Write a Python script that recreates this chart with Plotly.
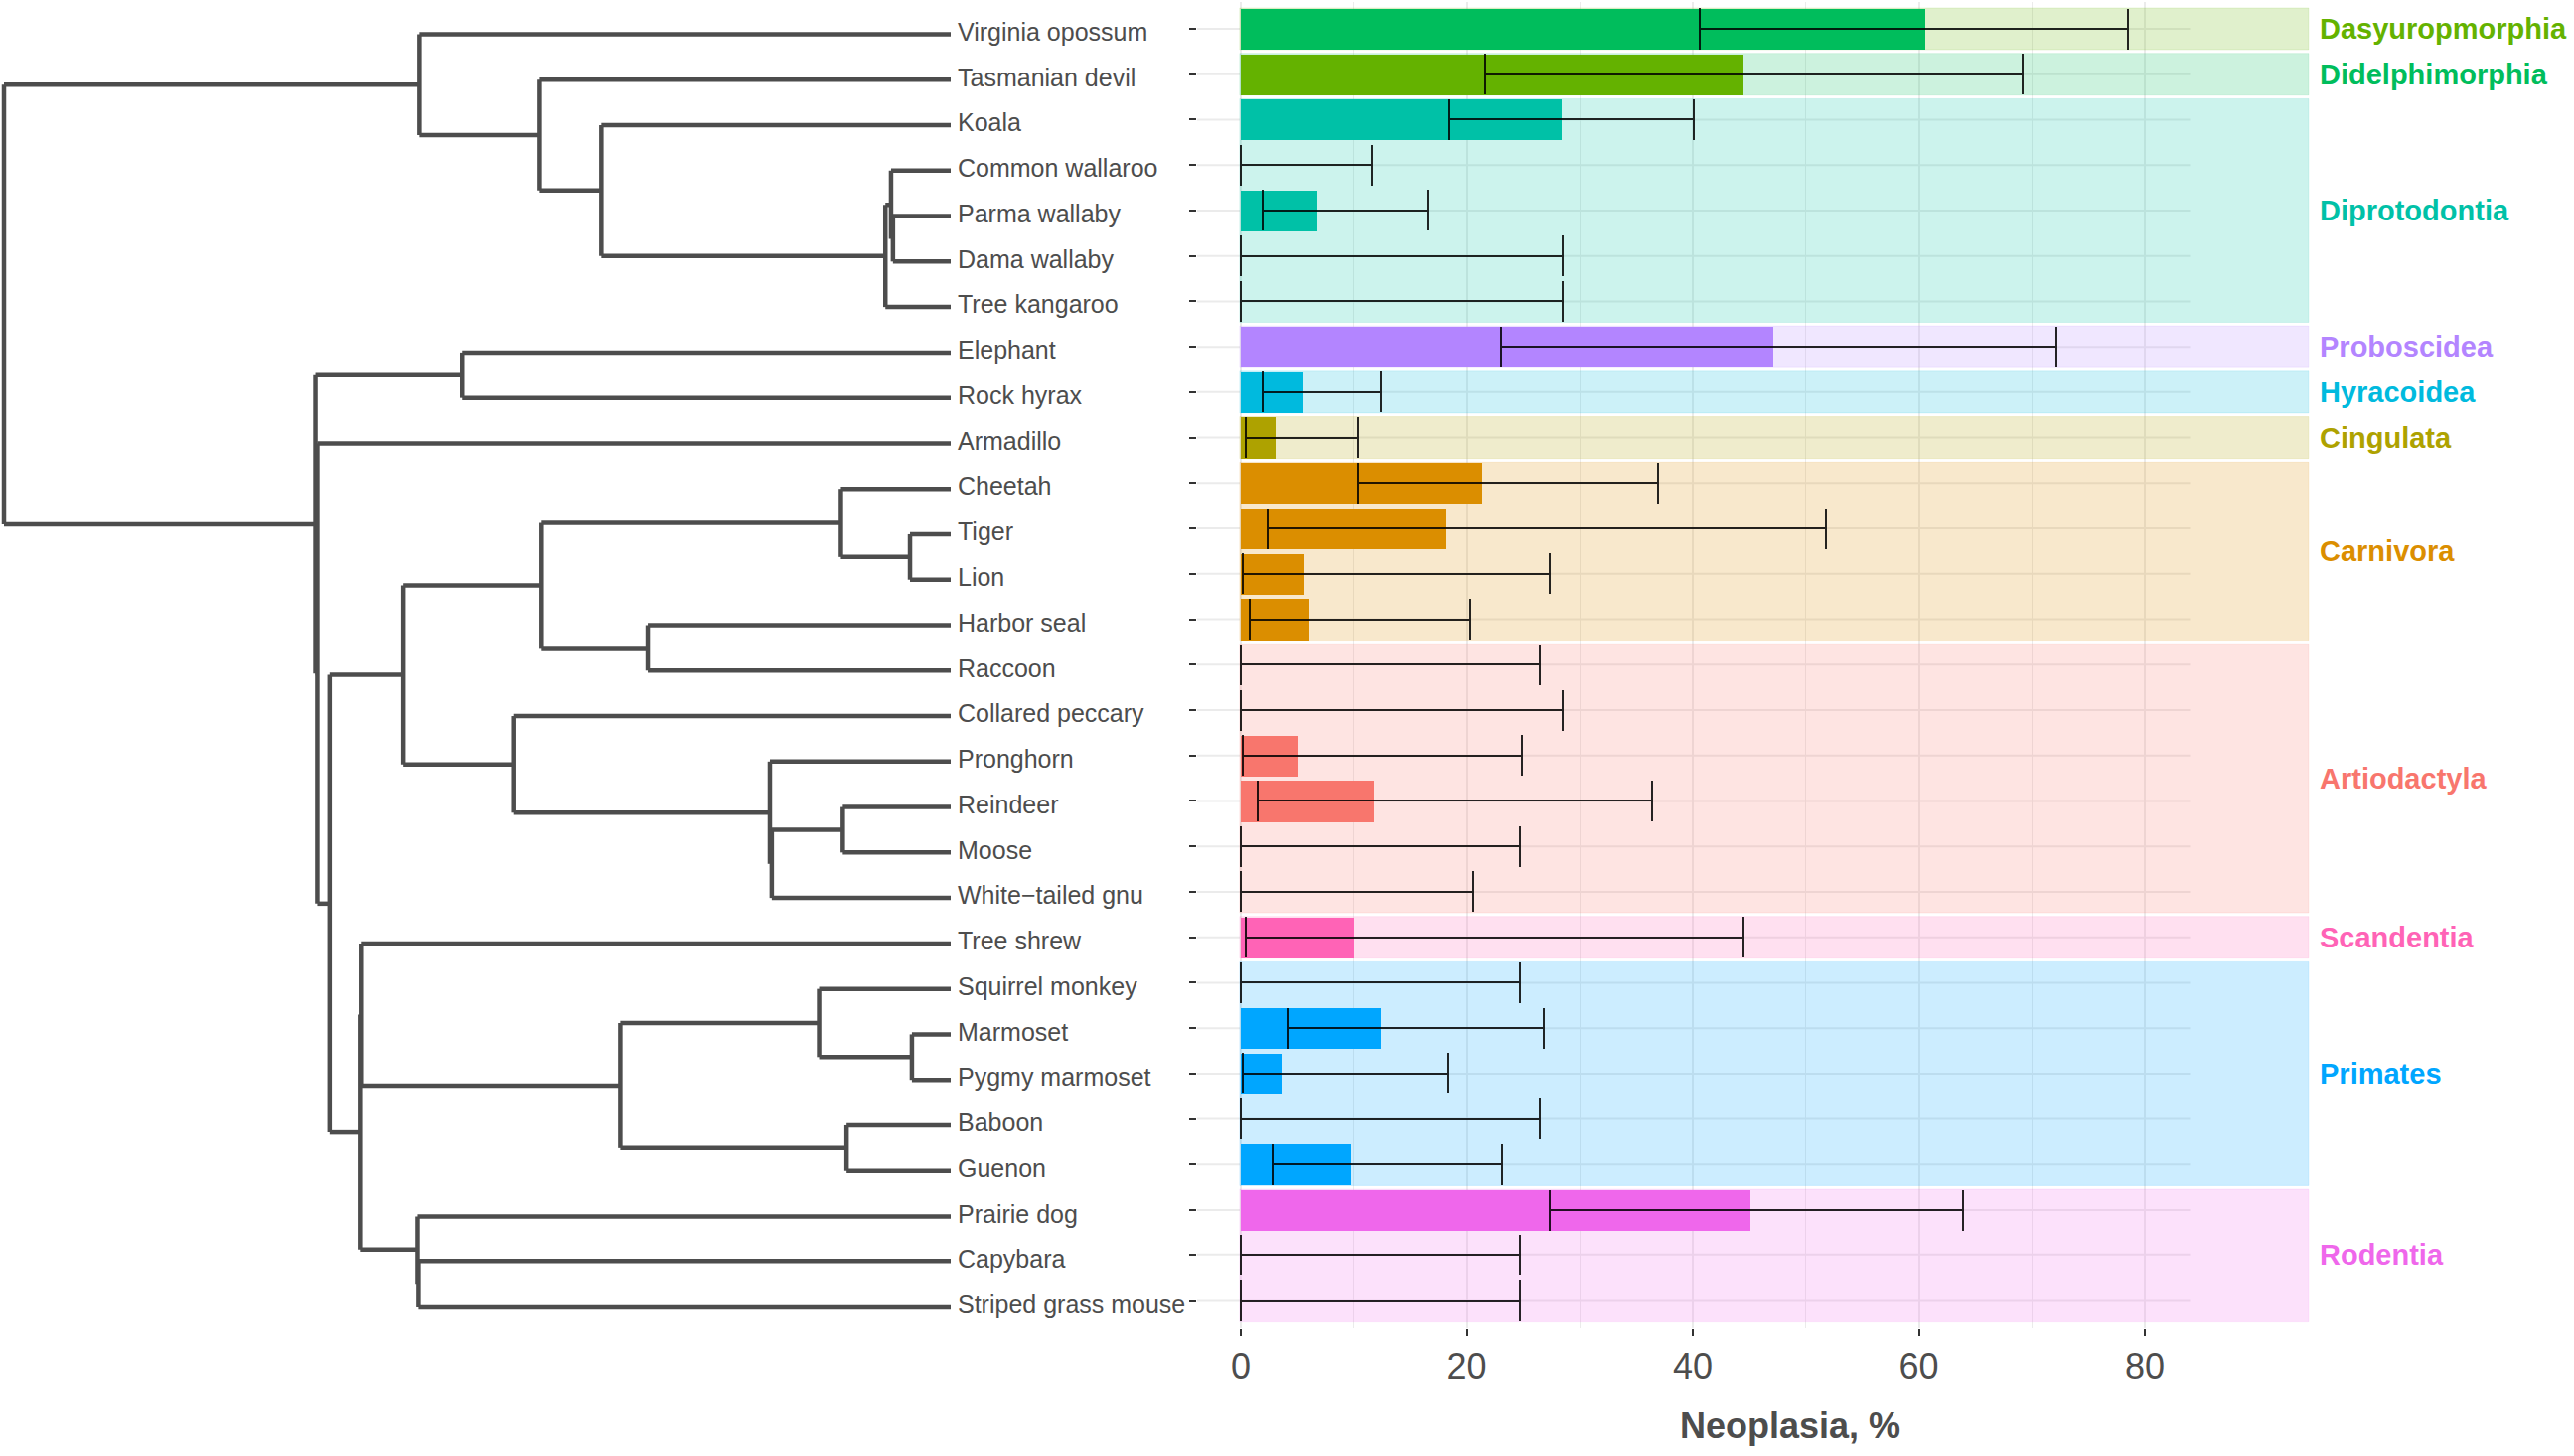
import plotly.graph_objects as go

# ---------------- data ----------------
species = ["Virginia opossum", "Tasmanian devil", "Koala", "Common wallaroo", "Parma wallaby",
           "Dama wallaby", "Tree kangaroo", "Elephant", "Rock hyrax", "Armadillo", "Cheetah",
           "Tiger", "Lion", "Harbor seal", "Raccoon", "Collared peccary", "Pronghorn", "Reindeer",
           "Moose", "White\u2212tailed gnu", "Tree shrew", "Squirrel monkey", "Marmoset",
           "Pygmy marmoset", "Baboon", "Guenon", "Prairie dog", "Capybara", "Striped grass mouse"]
species_order = ["Didelphimorphia", "Dasyuromorphia", "Diprotodontia", "Diprotodontia", "Diprotodontia",
                 "Diprotodontia", "Diprotodontia", "Proboscidea", "Hyracoidea", "Cingulata", "Carnivora",
                 "Carnivora", "Carnivora", "Carnivora", "Carnivora", "Artiodactyla", "Artiodactyla",
                 "Artiodactyla", "Artiodactyla", "Artiodactyla", "Scandentia", "Primates", "Primates",
                 "Primates", "Primates", "Primates", "Rodentia", "Rodentia", "Rodentia"]
neoplasia = [60.6, 44.5, 28.4, 0, 6.8, 0, 0, 47.1, 5.5, 3.1, 21.4, 18.2, 5.6, 6.1, 0, 0, 5.1, 11.8,
             0, 0, 10.0, 0, 12.4, 3.6, 0, 9.8, 45.1, 0, 0]
ci_low = [40.6, 21.6, 18.5, 0, 1.9, 0, 0, 23.0, 1.9, 0.4, 10.4, 2.4, 0.2, 0.8, 0, 0, 0.2, 1.5,
          0, 0, 0.4, 0, 4.2, 0.2, 0, 2.8, 27.3, 0, 0]
ci_high = [78.5, 69.2, 40.1, 11.6, 16.5, 28.5, 28.5, 72.2, 12.4, 10.4, 36.9, 51.8, 27.3, 20.3,
           26.5, 28.5, 24.9, 36.4, 24.7, 20.6, 44.5, 24.7, 26.8, 18.4, 26.5, 23.1, 63.9, 24.7, 24.7]

order_colors = {"Artiodactyla": "#F8766D", "Carnivora": "#DB8E00", "Cingulata": "#AEA200",
                "Dasyuromorphia": "#64B200", "Didelphimorphia": "#00BD5C", "Diprotodontia": "#00C1A7",
                "Hyracoidea": "#00BADE", "Primates": "#00A6FF", "Proboscidea": "#B385FF",
                "Rodentia": "#EF67EB", "Scandentia": "#FF63B6"}

# background blocks as drawn (label text, colour key, first and last species)
block_labels = ["Dasyuropmorphia", "Didelphimorphia", "Diprotodontia", "Proboscidea", "Hyracoidea",
                "Cingulata", "Carnivora", "Artiodactyla", "Scandentia", "Primates", "Rodentia"]
block_keys = ["Dasyuromorphia", "Didelphimorphia", "Diprotodontia", "Proboscidea", "Hyracoidea",
              "Cingulata", "Carnivora", "Artiodactyla", "Scandentia", "Primates", "Rodentia"]
block_first = ["Virginia opossum", "Tasmanian devil", "Koala", "Elephant", "Rock hyrax", "Armadillo",
               "Cheetah", "Raccoon", "Tree shrew", "Squirrel monkey", "Prairie dog"]
block_last = ["Virginia opossum", "Tasmanian devil", "Tree kangaroo", "Elephant", "Rock hyrax",
              "Armadillo", "Harbor seal", "White\u2212tailed gnu", "Tree shrew", "Guenon",
              "Striped grass mouse"]

# phylogeny: internal nodes (name, parent, relative depth from root 0 to tips 1)
node_names = ["root", "Marsupialia", "M2", "M3", "MacroA", "MacroB", "MacroC", "Placentalia",
              "Afrotheria", "PX", "Boreoeutheria", "Laurasiatheria", "CarnivoraN", "Felidae",
              "Panthera", "Caniformia", "ArtiodactylaN", "Ruminantia", "R2", "Cervidae",
              "Euarchontoglires", "E1", "PrimatesN", "Platyrrhini", "Callitrichidae", "Catarrhini",
              "RodentiaN", "Rod2"]
node_parent = [None, "root", "Marsupialia", "M2", "M3", "MacroA", "MacroB", "root",
               "Placentalia", "Placentalia", "PX", "Boreoeutheria", "Laurasiatheria", "CarnivoraN",
               "Felidae", "CarnivoraN", "Laurasiatheria", "ArtiodactylaN", "Ruminantia", "R2",
               "Boreoeutheria", "Euarchontoglires", "E1", "PrimatesN", "Platyrrhini", "PrimatesN",
               "Euarchontoglires", "RodentiaN"]
node_depth = [0.0, 0.439, 0.566, 0.631, 0.931, 0.937, 0.939, 0.329, 0.484, 0.331, 0.344, 0.422,
              0.568, 0.884, 0.957, 0.680, 0.538, 0.809, 0.811, 0.886, 0.376, 0.377, 0.651, 0.861,
              0.959, 0.890, 0.437, 0.438]
leaf_parent = ["Marsupialia", "M2", "M3", "MacroB", "MacroC", "MacroC", "MacroA", "Afrotheria",
               "Afrotheria", "PX", "Felidae", "Panthera", "Panthera", "Caniformia", "Caniformia",
               "ArtiodactylaN", "Ruminantia", "Cervidae", "Cervidae", "R2", "E1", "Platyrrhini",
               "Callitrichidae", "Callitrichidae", "Catarrhini", "Catarrhini", "RodentiaN", "Rod2",
               "Rod2"]
tip_depth = 1.0

x_ticks = [0, 20, 40, 60, 80]
x_minor = [10, 30, 50, 70]

# ---------------- layout helpers ----------------
W, H = 2591, 1466
FONT = "Liberation Sans, Arial, Helvetica, sans-serif"
TXT = "#4D4D4D"
GRID = "#EBEBEB"
LABEL_GAP = 7 / 953  # gap between tip and label, in tree units


def hex_rgba(h, a):
    h = h.lstrip("#")
    return f"rgba({int(h[0:2],16)},{int(h[2:4],16)},{int(h[4:6],16)},{a})"


row = {s: i for i, s in enumerate(species)}

# ---------------- tree geometry (from structure) ----------------
children = {n: [] for n in node_names}
pos_y = {}
pos_x = dict(zip(node_names, node_depth))
for s, p in zip(species, leaf_parent):
    children[p].append(s)
    pos_y[s] = row[s]
    pos_x[s] = tip_depth
for n, p in zip(node_names, node_parent):
    if p is not None:
        children[p].append(n)


def node_y(n):
    if n in pos_y:
        return pos_y[n]
    v = sum(node_y(c) for c in children[n]) / len(children[n])
    pos_y[n] = v
    return v


node_y("root")
tx, ty = [], []
for n in node_names:
    cys = [pos_y[c] for c in children[n]]
    tx += [pos_x[n], pos_x[n], None]
    ty += [min(cys), max(cys), None]
    for c in children[n]:
        tx += [pos_x[n], pos_x[c], None]
        ty += [pos_y[c], pos_y[c], None]

fig = go.Figure()

# tree
fig.add_trace(go.Scatter(x=tx, y=ty, mode="lines", line=dict(color="#4D4D4D", width=4.5),
                         xaxis="x2", yaxis="y2", hoverinfo="skip", showlegend=False))
fig.add_trace(go.Scatter(x=[tip_depth + LABEL_GAP] * len(species), y=list(range(len(species))),
                         mode="text", text=species, textposition="middle right",
                         textfont=dict(family=FONT, size=25, color=TXT),
                         xaxis="x2", yaxis="y2", cliponaxis=False, hoverinfo="skip",
                         showlegend=False))

# bars + CI
fig.add_trace(go.Bar(
    x=neoplasia, y=species, orientation="h", width=0.9,
    marker=dict(color=[order_colors[o] for o in species_order], line=dict(width=0)),
    error_x=dict(type="data", symmetric=False,
                 array=[h - v for h, v in zip(ci_high, neoplasia)],
                 arrayminus=[v - l for v, l in zip(neoplasia, ci_low)],
                 color="rgba(0,0,0,0.85)", thickness=2, width=20.5),
    showlegend=False, hoverinfo="skip"))

shapes = []
# horizontal grid lines (stop at the panel's data edge)
for i in range(len(species)):
    shapes.append(dict(type="line", xref="x", yref="y", x0=-3.868, x1=84, y0=i, y1=i,
                       line=dict(color=GRID, width=2), layer="below"))
# coloured blocks
for lab, key, a, b in zip(block_labels, block_keys, block_first, block_last):
    shapes.append(dict(type="rect", xref="x", yref="y", x0=-0.1, x1=94.5,
                       y0=row[a] - 0.46, y1=row[b] + 0.46,
                       fillcolor=hex_rgba(order_colors[key], 0.2),
                       line=dict(color=hex_rgba(order_colors[key], 0.12), width=1),
                       layer="between"))

annotations = []
for lab, key, a, b in zip(block_labels, block_keys, block_first, block_last):
    annotations.append(dict(text=f"<b>{lab}</b>", xref="paper", yref="y", x=2333 / W,
                            y=(row[a] + row[b]) / 2, xanchor="left", yanchor="middle",
                            showarrow=False, font=dict(family=FONT, size=29,
                                                       color=order_colors[key])))
annotations.append(dict(text="<b>Neoplasia, %</b>", xref="paper", yref="paper", x=1802 / W,
                        y=1 - 1435 / H, xanchor="center", yanchor="middle", showarrow=False,
                        font=dict(family=FONT, size=36, color=TXT)))

fig.update_layout(
    width=W, height=H, margin=dict(l=0, r=0, t=0, b=0),
    paper_bgcolor="white", plot_bgcolor="rgba(0,0,0,0)",
    shapes=shapes, annotations=annotations, bargap=0,
    xaxis=dict(domain=[1205 / W, 2400 / W], range=[-3.868, (2400 - 1249) / 11.375],
               tickmode="array", tickvals=x_ticks, ticks="outside", ticklen=7, tickwidth=2,
               tickcolor="#333333", tickfont=dict(family=FONT, size=36, color=TXT),
               showgrid=True, gridcolor=GRID, gridwidth=2, zeroline=False, showline=False,
               minor=dict(tickmode="array", tickvals=x_minor, showgrid=True, gridcolor=GRID,
                          gridwidth=1.3, ticks=""),
               anchor="y"),
    yaxis=dict(domain=[1 - 1337.0 / H, 1 - 1.56 / H], type="category",
               categoryorder="array", categoryarray=species, range=[28.6, -0.6],
               ticks="outside", ticklen=7, tickwidth=2, tickcolor="#333333",
               showticklabels=False, showgrid=False, zeroline=False, showline=False,
               anchor="x"),
    xaxis2=dict(domain=[0, 1200 / W], range=[-4 / 953, 1196 / 953], visible=False,
                anchor="y2"),
    yaxis2=dict(domain=[1 - 1343.5 / H, 1 - 7.04 / H], range=[28.6, -0.6], visible=False,
                anchor="x2"),
)

fig.write_html("out.html", config={"displayModeBar": False},
               post_script="document.body.style.margin='0px';document.body.style.overflow='hidden';")
